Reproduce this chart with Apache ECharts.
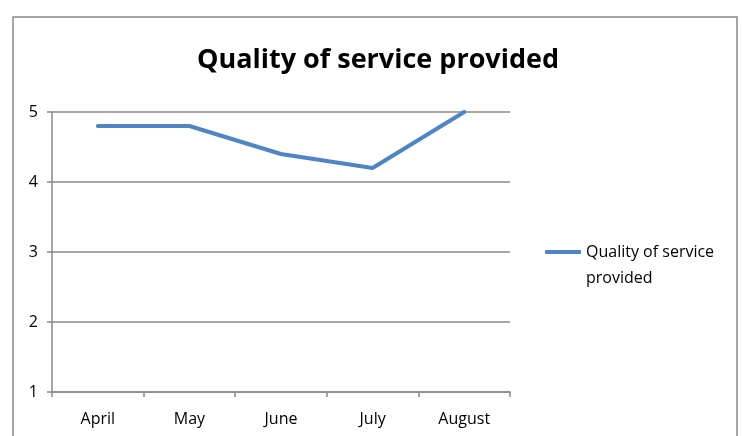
<!DOCTYPE html>
<html>
<head>
<meta charset="utf-8">
<script src="https://cdn.jsdelivr.net/npm/echarts@6/dist/echarts.min.js"></script>
<style>
  html, body { margin: 0; padding: 0; background: #fff; }
  #chart { width: 742px; height: 436px; }
</style>
</head>
<body>
<div id="chart"></div>
<script>
// Monthly service quality ratings
const months = ['April', 'May', 'June', 'July', 'August'];
const qualityScores = [4.8, 4.8, 4.4, 4.2, 5];
const seriesName = 'Quality of service provided';
const yTicks = { min: 1, max: 5, step: 1 };

const font = '"Open Sans", sans-serif';
const gray = '#898989';
const lineColor = '#4f85c4';

const chart = echarts.init(document.getElementById('chart'));
chart.setOption({
  animation: false,
  backgroundColor: '#fff',
  title: {
    text: 'Quality of service provided',
    left: 373,
    textAlign: 'center',
    top: 42,
    textStyle: { fontFamily: font, fontWeight: 'bold', fontSize: 27, color: '#000' }
  },
  graphic: [{
    type: 'rect',
    shape: { x: 13, y: 17, width: 724, height: 440 },
    style: { fill: 'none', stroke: gray, lineWidth: 1.5 },
    silent: true
  }],
  legend: {
    left: 545,
    top: 213,
    padding: 0,
    orient: 'vertical',
    icon: 'roundRect',
    itemWidth: 36,
    itemHeight: 4,
    // leading blank line keeps the marker level with the first text line
    formatter: () => ' \nQuality of service\nprovided',
    textStyle: { fontFamily: font, fontSize: 16, color: '#000', lineHeight: 26 }
  },
  grid: { left: 52, right: 232, top: 112, bottom: 44 },
  xAxis: {
    type: 'category',
    data: months,
    boundaryGap: true,
    axisLine: { lineStyle: { color: gray, width: 1.5 } },
    axisTick: { show: true, length: 5, lineStyle: { color: gray, width: 1.5 } },
    axisLabel: { margin: 19, fontFamily: font, fontSize: 16, color: '#000' }
  },
  yAxis: {
    type: 'value',
    min: yTicks.min,
    max: yTicks.max,
    interval: yTicks.step,
    axisLine: { show: true, lineStyle: { color: gray, width: 1.5 } },
    axisTick: { show: true, length: 5, lineStyle: { color: gray, width: 1.5 } },
    axisLabel: { margin: 14, fontFamily: font, fontSize: 16, color: '#000' },
    splitLine: { show: true, lineStyle: { color: gray, width: 1.5 } }
  },
  series: [{
    name: seriesName,
    type: 'line',
    data: qualityScores,
    symbol: 'none',
    lineStyle: { color: lineColor, width: 4, cap: 'round' },
    itemStyle: { color: lineColor }
  }]
});
</script>
</body>
</html>
